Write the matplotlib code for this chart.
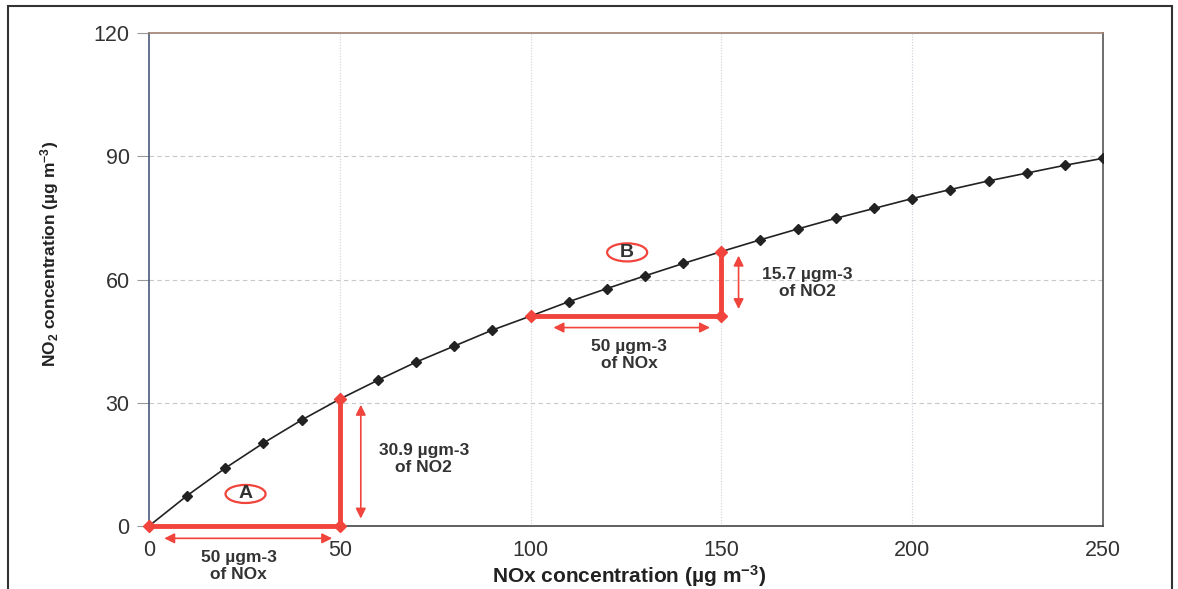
import matplotlib
matplotlib.use("Agg")
import matplotlib.pyplot as plt
from matplotlib.patches import Ellipse, Rectangle

plt.rcParams['font.family'] = ['Liberation Sans', 'DejaVu Sans']
plt.rcParams['mathtext.fontset'] = 'custom'
plt.rcParams['mathtext.rm'] = 'Liberation Sans:bold'
plt.rcParams['mathtext.it'] = 'Liberation Sans:bold'
plt.rcParams['mathtext.bf'] = 'Liberation Sans:bold'

nox = [0, 10, 20, 30, 40, 50, 60, 70, 80, 90, 100, 110, 120, 130, 140, 150,
       160, 170, 180, 190, 200, 210, 220, 230, 240, 250]
no2 = [0, 7.4, 14.1, 20.2, 25.8, 30.9, 35.5, 39.9, 43.8, 47.7, 51.1, 54.6,
       57.8, 60.9, 63.9, 66.8, 69.6, 72.3, 74.9, 77.3, 79.7, 81.9, 84.0,
       85.9, 87.8, 89.5]

x_ticks = [0, 50, 100, 150, 200, 250]
y_ticks = [0, 30, 60, 90, 120]

# step annotations: (x0, x1, y0, y1, dNO2 label)
step_A = (0, 50, 0, 30.9, "30.9 µgm-3\nof NO2")
step_B = (100, 150, 51.1, 66.8, "15.7 µgm-3\nof NO2")
nox_label = "50 µgm-3\nof NOx"

RED = '#f0443c'

fig = plt.figure(figsize=(11.78, 5.89), dpi=100)
ax = fig.add_axes([149/1178, 1-526/589, (1103-149)/1178, (526-33)/589])
ax.set_xlim(0, 250)
ax.set_ylim(0, 120)
ax.set_xticks(x_ticks)
ax.set_yticks(y_ticks)
ax.tick_params(labelsize=15.5, colors='#333333')
ax.tick_params(axis='y', length=9, direction='out', color='#999999', pad=5)
ax.tick_params(axis='x', length=0, pad=10)
for v in [30, 60, 90]:
    ax.axhline(v, color='#c8c8c8', lw=0.8, ls=(0, (4, 3)), zorder=0)
for v in [50, 100, 150, 200]:
    ax.axvline(v, color='#cfd0dc', lw=0.8, ls=(0, (1, 1.5)), zorder=0)
ax.spines['left'].set_color('#4a5a7a')
ax.spines['top'].set_color('#a08070')
ax.spines['right'].set_color('#555555')
ax.spines['bottom'].set_color('#444444')
for s in ax.spines.values():
    s.set_linewidth(1.2)

ax.plot(nox, no2, color='#222222', lw=1.2, marker='D', ms=5, zorder=3)

for (x0, x1, y0, y1, lab) in [step_A, step_B]:
    ax.plot([x0, x1, x1], [y0, y0, y1], color=RED, lw=3.5, marker='D',
            ms=6.5, zorder=4, clip_on=False)

arrow_kw = dict(arrowstyle='<|-|>', color=RED, lw=1.2, mutation_scale=15,
                shrinkA=0, shrinkB=0)
# A arrows
ax.annotate('', xy=(4, -3), xytext=(48, -3), arrowprops=arrow_kw,
            annotation_clip=False)
ax.annotate('', xy=(55.5, 1.8), xytext=(55.5, 29.5), arrowprops=arrow_kw)
# B arrows
ax.annotate('', xy=(106, 48.3), xytext=(147, 48.3), arrowprops=arrow_kw)
ax.annotate('', xy=(154.5, 52.8), xytext=(154.5, 65.8), arrowprops=arrow_kw)

tkw = dict(fontsize=12.5, fontweight='bold', color='#333333', ha='center',
           va='center', linespacing=1.2)
ax.text(23.5, -9.7, nox_label, clip_on=False, **tkw)
ax.text(72, 16.3, step_A[4], **tkw)
ax.text(125.8, 41.6, nox_label, **tkw)
ax.text(172.5, 59.2, step_B[4], **tkw)

for (cx, cy, t) in [(25.3, 7.8, 'A'), (125.3, 66.6, 'B')]:
    ax.add_patch(Ellipse((cx, cy), 10.5, 4.4, fill=False, ec=RED, lw=1.6, zorder=5))
    ax.text(cx, cy, t, fontsize=14, fontweight='bold', color='#333333',
            ha='center', va='center', zorder=6)

ax.set_xlabel(r'NOx concentration (µg m$^{-3}$)', fontsize=15,
              fontweight='bold', color='#222222', va='center')
ax.xaxis.set_label_coords(0.503, -0.1025)
ax.set_ylabel(r'NO$_2$ concentration (µg m$^{-3}$)', fontsize=12.5,
              fontweight='bold', color='#222222', va='center')
ax.yaxis.set_label_coords(-0.104, 0.552)

# outer border of the picture
fig.add_artist(Rectangle((8/1178, -0.05), (1172-8)/1178, 1.05 - 6/589,
                         transform=fig.transFigure, fill=False,
                         ec='#333333', lw=1.5))

fig.savefig('out.png', dpi=100, facecolor='white')
